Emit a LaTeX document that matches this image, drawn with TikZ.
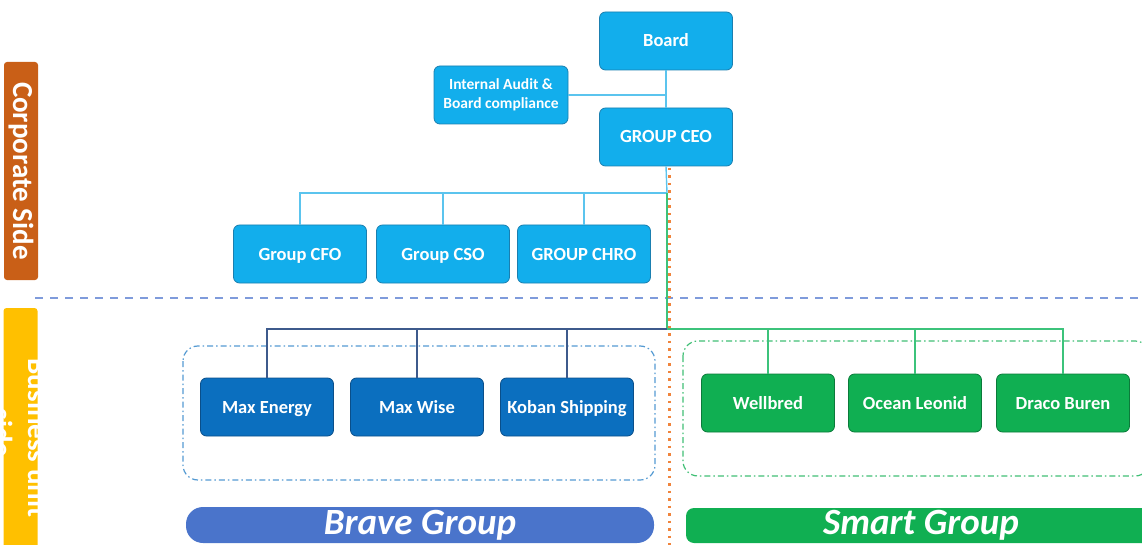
\documentclass[tikz,border=0pt]{standalone}
\usepackage{fontspec}
\setmainfont{Carlito}
\usetikzlibrary{positioning}
\definecolor{lblue}{HTML}{12AEEC}
\definecolor{lblueb}{HTML}{1A7FB0}
\definecolor{dblue}{HTML}{0B6FBF}
\definecolor{dblueb}{HTML}{0A4F8A}
\definecolor{grn}{HTML}{10AF52}
\definecolor{grnb}{HTML}{0B7A3A}
\definecolor{bannerblue}{HTML}{4A74CB}
\definecolor{lineblue}{HTML}{5BC4EE}
\definecolor{linedark}{HTML}{3D5A8C}
\definecolor{linegreen}{HTML}{3CC37B}
\definecolor{sepblue}{HTML}{7F9BDB}
\definecolor{dotorange}{HTML}{F0843C}
\definecolor{corp}{HTML}{C95F17}
\definecolor{bus}{HTML}{FFC000}
\tikzset{
  orgbox/.style={rounded corners=6pt, draw, line width=0.8pt, minimum width=133pt, minimum height=58pt, text=white, font=\bfseries\fontsize{18.5}{20}\selectfont, align=center, inner sep=2pt},
  oneline/.style={text height=13pt, text depth=1pt},
  corpbox/.style={orgbox, oneline, fill=lblue, draw=lblueb},
  bravebox/.style={orgbox, oneline, fill=dblue, draw=dblueb},
  smartbox/.style={orgbox, oneline, fill=grn, draw=grnb},
  corpline/.style={lineblue, line width=1.4pt},
  braveline/.style={linedark, line width=1.4pt},
  smartline/.style={linegreen, line width=1.4pt},
  banner/.style={text=white, font=\bfseries\itshape\fontsize{37}{40}\selectfont, inner sep=0pt},
  sidelabel/.style={rotate=-90, text=white, font=\bfseries\fontsize{29}{36}\selectfont, align=center, inner sep=0pt},
}
\begin{document}
\begin{tikzpicture}[x=1pt,y=-1pt]
\useasboundingbox (0,0) rectangle (1142,545);
\clip (0,0) rectangle (1142,545);
% side labels
\node[sidelabel, fill=corp, rounded corners=3pt, minimum width=218pt, minimum height=34pt] (corpside) at (21,171) {Corporate Side};
\fill[bus, rounded corners=3pt] (3.5,308) rectangle (37.5,560);
\begin{scope}
\clip (3.5,308) rectangle (37.5,560);
\node[sidelabel, anchor=base] (busside1) at (28,438) {Business unit};
\node[sidelabel, anchor=base] (busside2) at (-8,433) {side};
\end{scope}
% separators
\draw[sepblue, line width=1.5pt, dash pattern=on 8pt off 7pt] (35,298) -- (1142,298);
\draw[dotorange, line width=3pt, dash pattern=on 2.5pt off 5pt] (669,168) -- (669,545);
% group frames
\draw[dblue!70, line width=1.2pt, dash pattern=on 6pt off 3pt on 1.5pt off 3pt, rounded corners=15pt] (183,346) rectangle (655,480);
\draw[grn!80, line width=1.2pt, dash pattern=on 6pt off 3pt on 1.5pt off 3pt, rounded corners=15pt] (683,341) rectangle (1150,476);
% corporate nodes
\node[corpbox] (board) at (666,41) {Board};
\node[orgbox, fill=lblue, draw=lblueb, font=\bfseries\fontsize{15.5}{19}\selectfont, minimum width=134pt] (audit) at (501,95) {Internal Audit \&\\Board compliance};
\node[corpbox] (ceo) at (666,137) {GROUP CEO};
\node[corpbox] (cfo) at (300,254) {Group CFO};
\node[corpbox] (cso) at (443,254) {Group CSO};
\node[corpbox] (chro) at (584,254) {GROUP CHRO};
% business nodes
\node[bravebox] (maxe) at (267,407) {Max Energy};
\node[bravebox] (maxw) at (417,407) {Max Wise};
\node[bravebox] (koban) at (567,407) {Koban Shipping};
\node[smartbox] (well) at (768,403) {Wellbred};
\node[smartbox] (ocean) at (915,403) {Ocean Leonid};
\node[smartbox] (draco) at (1063,403) {Draco Buren};
% banners
\node[banner, fill=bannerblue, rounded corners=17pt, minimum width=468pt, minimum height=36pt, text height=26pt, text depth=8pt] (brave) at (420,525) {Brave Group};
\node[banner, fill=grn, rounded corners=8pt, minimum width=470pt, minimum height=35pt, text height=26pt, text depth=8pt] (smart) at (921,525.5) {Smart Group};
% junctions
\coordinate (cj) at (667,193);
\coordinate (bj) at (667,329);
% connectors
\draw[corpline] (board) -- (ceo);
\draw[corpline] (audit.east) -- (audit.east -| board.south);
\draw[corpline] (ceo.south) -- (cj);
\draw[corpline] (cfo.north) |- (cj);
\draw[corpline] (cso.north) |- (cj);
\draw[corpline] (chro.north) |- (cj);
\draw[smartline] (cj) -- (bj);
\draw[braveline] (maxe.north) |- (bj);
\draw[braveline] (maxw.north) |- (bj);
\draw[braveline] (koban.north) |- (bj);
\draw[smartline] (well.north) |- (bj);
\draw[smartline] (ocean.north) |- (bj);
\draw[smartline] (draco.north) |- (bj);
\end{tikzpicture}
\end{document}
